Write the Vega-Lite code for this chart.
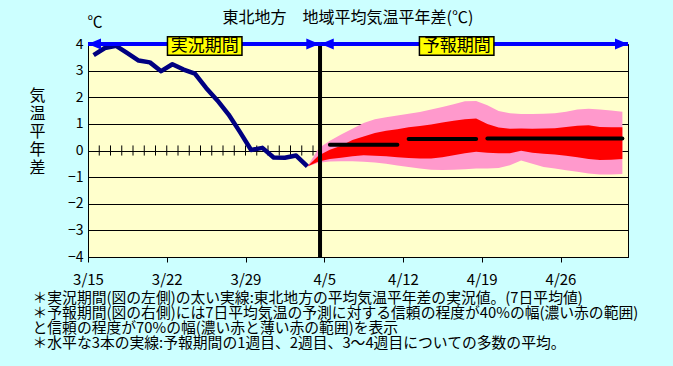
{
  "$schema": "https://vega.github.io/schema/vega-lite/v6.json",
  "width": 540,
  "height": 213,
  "autosize": {"type": "none"},
  "padding": {"left": 88, "top": 44, "right": 45, "bottom": 109},
  "background": "#CCFFFF",
  "title": {
    "text": "東北地方　地域平均気温平年差(℃)",
    "font": "Noto Sans CJK JP",
    "fontSize": 16,
    "fontWeight": "normal",
    "color": "#000000",
    "anchor": "middle",
    "dx": -10,
    "dy": 40,
    "baseline": "alphabetic",
    "offset": 16
  },
  "config": {
    "view": {"fill": "#FFFFCC", "stroke": "#000000", "strokeWidth": 1},
    "font": "Noto Sans CJK JP",
    "axis": {
      "labelFont": "Noto Sans CJK JP",
      "titleFont": "Noto Sans CJK JP",
      "labelColor": "#000000",
      "titleColor": "#000000",
      "domainColor": "#000000",
      "tickColor": "#000000",
      "titleFontWeight": "normal"
    }
  },
  "datasets": {
    "obs": [
      {"date": "2024-03-15T12:00", "v": 3.58},
      {"date": "2024-03-16T12:00", "v": 3.85},
      {"date": "2024-03-17T12:00", "v": 3.93},
      {"date": "2024-03-18T12:00", "v": 3.66},
      {"date": "2024-03-19T12:00", "v": 3.38},
      {"date": "2024-03-20T12:00", "v": 3.31},
      {"date": "2024-03-21T12:00", "v": 2.98},
      {"date": "2024-03-22T12:00", "v": 3.24},
      {"date": "2024-03-23T12:00", "v": 3.04},
      {"date": "2024-03-24T12:00", "v": 2.89},
      {"date": "2024-03-25T12:00", "v": 2.35},
      {"date": "2024-03-26T12:00", "v": 1.88},
      {"date": "2024-03-27T12:00", "v": 1.35},
      {"date": "2024-03-28T12:00", "v": 0.7},
      {"date": "2024-03-29T12:00", "v": 0.02},
      {"date": "2024-03-30T12:00", "v": 0.1},
      {"date": "2024-03-31T12:00", "v": -0.26},
      {"date": "2024-04-01T12:00", "v": -0.27},
      {"date": "2024-04-02T12:00", "v": -0.19},
      {"date": "2024-04-03T12:00", "v": -0.6}
    ],
    "band": [
      {"date": "2024-04-03T12:00", "hi70": -0.6, "hi40": -0.6, "lo40": -0.6, "lo70": -0.6},
      {"date": "2024-04-04T12:00", "hi70": 0.08, "hi40": -0.19, "lo40": -0.41, "lo70": -0.46},
      {"date": "2024-04-05T12:00", "hi70": 0.37, "hi40": 0.03, "lo40": -0.32, "lo70": -0.41},
      {"date": "2024-04-06T12:00", "hi70": 0.6, "hi40": 0.18, "lo40": -0.27, "lo70": -0.4},
      {"date": "2024-04-07T12:00", "hi70": 0.82, "hi40": 0.39, "lo40": -0.22, "lo70": -0.4},
      {"date": "2024-04-08T12:00", "hi70": 1.03, "hi40": 0.53, "lo40": -0.18, "lo70": -0.42},
      {"date": "2024-04-09T12:00", "hi70": 1.17, "hi40": 0.66, "lo40": -0.2, "lo70": -0.45},
      {"date": "2024-04-10T12:00", "hi70": 1.25, "hi40": 0.74, "lo40": -0.22, "lo70": -0.5},
      {"date": "2024-04-11T12:00", "hi70": 1.31, "hi40": 0.8, "lo40": -0.25, "lo70": -0.56},
      {"date": "2024-04-12T12:00", "hi70": 1.38, "hi40": 0.87, "lo40": -0.28, "lo70": -0.62},
      {"date": "2024-04-13T12:00", "hi70": 1.45, "hi40": 0.92, "lo40": -0.3, "lo70": -0.68},
      {"date": "2024-04-14T12:00", "hi70": 1.54, "hi40": 0.98, "lo40": -0.3, "lo70": -0.72},
      {"date": "2024-04-15T12:00", "hi70": 1.63, "hi40": 1.05, "lo40": -0.25, "lo70": -0.73},
      {"date": "2024-04-16T12:00", "hi70": 1.74, "hi40": 1.12, "lo40": -0.18, "lo70": -0.72},
      {"date": "2024-04-17T12:00", "hi70": 1.85, "hi40": 1.17, "lo40": -0.1, "lo70": -0.7},
      {"date": "2024-04-18T12:00", "hi70": 1.86, "hi40": 1.2, "lo40": -0.05, "lo70": -0.68},
      {"date": "2024-04-19T12:00", "hi70": 1.7, "hi40": 1.0, "lo40": -0.08, "lo70": -0.68},
      {"date": "2024-04-20T12:00", "hi70": 1.48, "hi40": 0.86, "lo40": -0.1, "lo70": -0.66},
      {"date": "2024-04-21T12:00", "hi70": 1.4, "hi40": 0.82, "lo40": -0.1, "lo70": -0.55},
      {"date": "2024-04-22T12:00", "hi70": 1.37, "hi40": 0.83, "lo40": -0.01, "lo70": -0.38},
      {"date": "2024-04-23T12:00", "hi70": 1.37, "hi40": 0.82, "lo40": -0.08, "lo70": -0.5},
      {"date": "2024-04-24T12:00", "hi70": 1.38, "hi40": 0.83, "lo40": -0.12, "lo70": -0.62},
      {"date": "2024-04-25T12:00", "hi70": 1.4, "hi40": 0.84, "lo40": -0.15, "lo70": -0.68},
      {"date": "2024-04-26T12:00", "hi70": 1.46, "hi40": 0.88, "lo40": -0.2, "lo70": -0.74},
      {"date": "2024-04-27T12:00", "hi70": 1.54, "hi40": 0.93, "lo40": -0.25, "lo70": -0.8},
      {"date": "2024-04-28T12:00", "hi70": 1.57, "hi40": 0.95, "lo40": -0.32, "lo70": -0.86},
      {"date": "2024-04-29T12:00", "hi70": 1.54, "hi40": 0.88, "lo40": -0.36, "lo70": -0.9},
      {"date": "2024-04-30T12:00", "hi70": 1.5, "hi40": 0.87, "lo40": -0.35, "lo70": -0.9},
      {"date": "2024-05-01T12:00", "hi70": 1.46, "hi40": 0.87, "lo40": -0.32, "lo70": -0.88}
    ],
    "weeks": [
      {"start": "2024-04-05T12:00", "end": "2024-04-11T12:00", "v": 0.22},
      {"start": "2024-04-12T12:00", "end": "2024-04-18T12:00", "v": 0.43},
      {"start": "2024-04-19T12:00", "end": "2024-05-01T12:00", "v": 0.45}
    ],
    "zeroTicks": [
      {"date": "2024-03-16T00:00"}, {"date": "2024-03-17T00:00"}, {"date": "2024-03-18T00:00"},
      {"date": "2024-03-19T00:00"}, {"date": "2024-03-20T00:00"}, {"date": "2024-03-21T00:00"},
      {"date": "2024-03-22T00:00"}, {"date": "2024-03-23T00:00"}, {"date": "2024-03-24T00:00"},
      {"date": "2024-03-25T00:00"}, {"date": "2024-03-26T00:00"}, {"date": "2024-03-27T00:00"},
      {"date": "2024-03-28T00:00"}, {"date": "2024-03-29T00:00"}, {"date": "2024-03-30T00:00"},
      {"date": "2024-03-31T00:00"}, {"date": "2024-04-01T00:00"}, {"date": "2024-04-02T00:00"},
      {"date": "2024-04-03T00:00"}, {"date": "2024-04-04T00:00"}
    ],
    "segments": [
      {"start": "2024-03-15T00:00", "end": "2024-04-04T15:00"},
      {"start": "2024-04-04T15:00", "end": "2024-05-02T00:00"}
    ],
    "heads": [
      {"date": "2024-03-15T00:00", "dir": "L"},
      {"date": "2024-04-04T13:30", "dir": "R"},
      {"date": "2024-04-04T16:30", "dir": "L"},
      {"date": "2024-05-02T00:00", "dir": "R"}
    ],
    "periods": [
      {"date": "2024-03-25T09:00", "label": "実況期間"},
      {"date": "2024-04-16T18:30", "label": "予報期間"}
    ]
  },
  "encoding": {
    "x": {
      "type": "temporal",
      "scale": {
        "domain": [
          {"year": 2024, "month": 3, "date": 15, "hours": 0},
          {"year": 2024, "month": 5, "date": 2, "hours": 0}
        ]
      },
      "axis": {
        "grid": false,
        "values": [
          {"year": 2024, "month": 3, "date": 15},
          {"year": 2024, "month": 3, "date": 22},
          {"year": 2024, "month": 3, "date": 29},
          {"year": 2024, "month": 4, "date": 5},
          {"year": 2024, "month": 4, "date": 12},
          {"year": 2024, "month": 4, "date": 19},
          {"year": 2024, "month": 4, "date": 26}
        ],
        "format": "%-m/%-d",
        "labelFontSize": 15,
        "labelDx": 5,
        "labelPadding": 10,
        "tickSize": 5,
        "labelFlush": false,
        "labelOverlap": false,
        "title": [
          "＊実況期間(図の左側)の太い実線:東北地方の平均気温平年差の実況値。(7日平均値)",
          "＊予報期間(図の右側)には7日平均気温の予測に対する信頼の程度が40%の幅(濃い赤の範囲)",
          "\u00a0と信頼の程度が70%の幅(濃い赤と薄い赤の範囲)を表示",
          "＊水平な3本の実線:予報期間の1週目、2週目、3～4週目についての多数の平均。"
        ],
        "titleFontSize": 14.8,
        "titleLineHeight": 15,
        "titleAlign": "left",
        "titleAnchor": "start",
        "titleBaseline": "alphabetic",
        "titleX": -56,
        "titleY": 45
      }
    },
    "y": {
      "type": "quantitative",
      "scale": {"domain": [-4, 4], "nice": false, "zero": false},
      "axis": {
        "values": [-4, -3, -2, -1, 0, 1, 2, 3, 4],
        "grid": true,
        "gridColor": "#000000",
        "gridOpacity": 1,
        "gridWidth": 1,
        "tickSize": 0,
        "labelPadding": 5,
        "labelFontSize": 14,
        "title": ["気", "温", "平", "年", "差"],
        "titleAngle": 0,
        "titleFontSize": 16,
        "titleLineHeight": 18,
        "titleAlign": "center",
        "titleBaseline": "middle",
        "titleX": -51,
        "titleY": 51
      }
    }
  },
  "layer": [
    {
      "data": {"name": "band"},
      "mark": {"type": "area", "color": "#FF99CC", "opacity": 1},
      "encoding": {
        "x": {"field": "date"},
        "y": {"field": "hi70"},
        "y2": {"field": "lo70"}
      }
    },
    {
      "data": {"name": "band"},
      "mark": {"type": "area", "color": "#FF0000", "opacity": 1},
      "encoding": {
        "x": {"field": "date"},
        "y": {"field": "hi40"},
        "y2": {"field": "lo40"}
      }
    },
    {
      "data": {"name": "zeroTicks"},
      "mark": {"type": "rule", "color": "#000000", "strokeWidth": 1},
      "encoding": {
        "x": {"field": "date"},
        "y": {"datum": -0.19},
        "y2": {"datum": 0.19}
      }
    },
    {
      "data": {"name": "obs"},
      "mark": {"type": "line", "color": "#000080", "strokeWidth": 4.5, "strokeJoin": "round"},
      "encoding": {
        "x": {"field": "date"},
        "y": {"field": "v"}
      }
    },
    {
      "data": {"name": "weeks"},
      "mark": {"type": "rule", "color": "#000000", "strokeWidth": 4, "strokeCap": "round"},
      "encoding": {
        "x": {"field": "start"},
        "x2": {"field": "end"},
        "y": {"field": "v"}
      }
    },
    {
      "data": {"values": [{}]},
      "mark": {"type": "rule", "color": "#000000", "strokeWidth": 4},
      "encoding": {
        "x": {"datum": {"year": 2024, "month": 4, "date": 4, "hours": 15}},
        "y": {"datum": 4},
        "y2": {"datum": -4}
      }
    },
    {
      "data": {"name": "segments"},
      "mark": {"type": "rule", "color": "#0000FF", "strokeWidth": 4},
      "encoding": {
        "x": {"field": "start"},
        "x2": {"field": "end"},
        "y": {"datum": 4}
      }
    },
    {
      "data": {"name": "heads"},
      "mark": {"type": "point", "filled": true, "color": "#0000FF", "opacity": 1, "size": 400},
      "encoding": {
        "x": {"field": "date"},
        "y": {"datum": 4},
        "shape": {
          "field": "dir",
          "type": "nominal",
          "scale": {
            "domain": ["L", "R"],
            "range": ["M0,0L1.3,-0.55L1.3,0.55Z", "M0,0L-1.3,-0.55L-1.3,0.55Z"]
          },
          "legend": null
        }
      }
    },
    {
      "data": {"name": "periods"},
      "mark": {
        "type": "point",
        "shape": "M-1,-0.25H1V0.25H-1Z",
        "size": 5550,
        "filled": true,
        "fill": "#FFFF00",
        "stroke": "#000000",
        "strokeWidth": 1.5,
        "opacity": 1,
        "yOffset": 2
      },
      "encoding": {
        "x": {"field": "date"},
        "y": {"datum": 4}
      }
    },
    {
      "data": {"name": "periods"},
      "mark": {
        "type": "text",
        "font": "Noto Sans CJK JP",
        "fontSize": 17,
        "color": "#000000",
        "align": "center",
        "baseline": "middle",
        "yOffset": 2
      },
      "encoding": {
        "x": {"field": "date"},
        "y": {"datum": 4},
        "text": {"field": "label"}
      }
    },
    {
      "data": {"values": [{"unit": "℃"}]},
      "mark": {
        "type": "text",
        "font": "Noto Sans CJK JP",
        "fontSize": 15,
        "color": "#000000",
        "align": "center",
        "baseline": "middle",
        "dx": 7,
        "dy": -22
      },
      "encoding": {
        "x": {"datum": {"year": 2024, "month": 3, "date": 15, "hours": 0}},
        "y": {"datum": 4},
        "text": {"field": "unit"}
      }
    }
  ]
}
